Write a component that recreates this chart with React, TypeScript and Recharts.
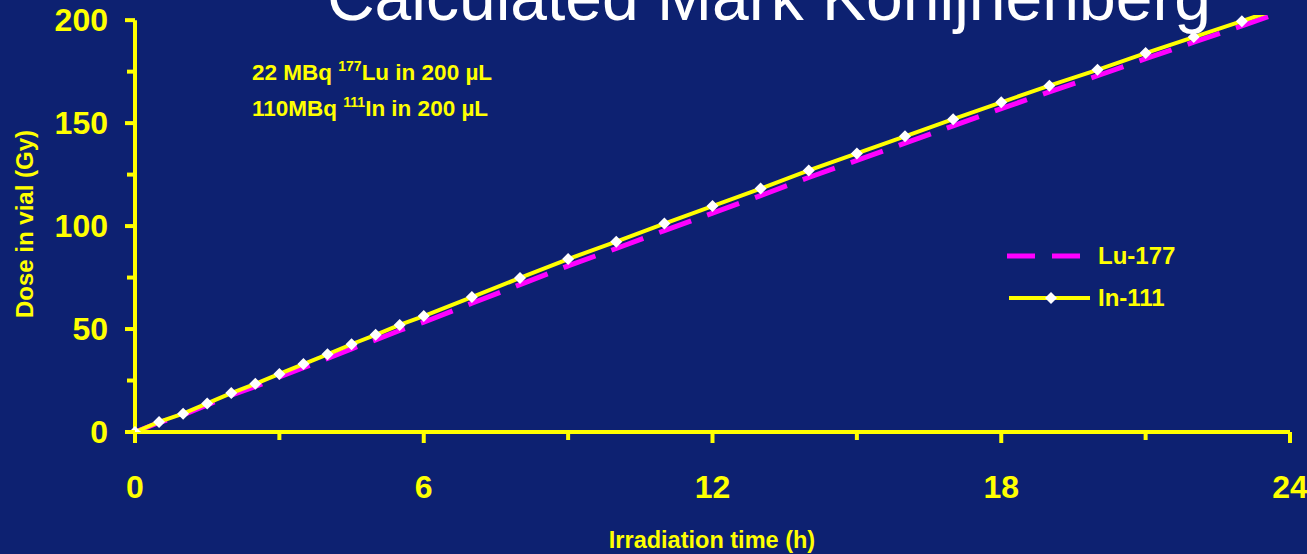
import { LineChart, Line, XAxis, YAxis, ReferenceLine } from 'recharts';

const BG = '#0d2171';
const YELLOW = '#ffff00';
const MAGENTA = '#ff00ff';
const FONT = '"Liberation Sans", Arial, sans-serif';

// irradiation time (h)
const hours = [0, 0.5, 1, 1.5, 2, 2.5, 3, 3.5, 4, 4.5, 5, 5.5, 6, 7, 8, 9, 10, 11, 12, 13, 14, 15, 16, 17, 18, 19, 20, 21, 22, 23, 24];
// dose in vial (Gy)
const in111 = [0, 4.9, 8.9, 13.9, 18.9, 23.4, 28.2, 33.0, 37.7, 42.6, 47.2, 52.0, 56.3, 65.5, 74.8, 84.0, 92.4, 101.2, 109.7, 118.2, 127.0, 135.3, 143.6, 151.9, 160.1, 168.2, 175.9, 184.0, 191.8, 199.5, 207.5];
const lu177 = [0, 4.6, 8.3, 13.1, 17.9, 22.1, 26.7, 31.2, 35.7, 40.4, 44.7, 49.3, 53.3, 62.5, 71.6, 80.7, 89.1, 97.8, 106.3, 114.8, 123.6, 131.9, 140.3, 148.7, 157.0, 165.2, 173.0, 181.3, 189.3, 197.2, 205.5];

const xTicks = [0, 3, 6, 9, 12, 15, 18, 21, 24];
const yTicks = [0, 25, 50, 75, 100, 125, 150, 175, 200];

const data = hours.map((h, i) => ({ h, lu: lu177[i], inn: in111[i] }));

const XTick = ({ x, y, payload }: any) => {
  const major = payload.value % 6 === 0;
  return (
    <g>
      <line x1={x} x2={x} y1={y} y2={y + (major ? 11 : 8)} stroke={YELLOW} strokeWidth={4} />
      {major && (
        <text x={x} y={y + 66} textAnchor="middle" fill={YELLOW} fontSize={32} fontWeight="bold" fontFamily={FONT}>
          {payload.value}
        </text>
      )}
    </g>
  );
};

const YTick = ({ x, y, payload }: any) => {
  const major = payload.value % 50 === 0;
  return (
    <g>
      <line x1={x - (major ? 10 : 8)} x2={x} y1={y} y2={y} stroke={YELLOW} strokeWidth={4} />
      {major && (
        <text x={x - 27} y={y + 11} textAnchor="end" fill={YELLOW} fontSize={32} fontWeight="bold" fontFamily={FONT}>
          {payload.value}
        </text>
      )}
    </g>
  );
};

const Diamond = ({ cx, cy }: any) => {
  if (cx == null || cy == null) return null;
  const r = 6;
  return <polygon points={`${cx},${cy - r} ${cx + r},${cy} ${cx},${cy + r} ${cx - r},${cy}`} fill="#ffffff" />;
};

export default function App() {
  return (
    <div style={{ position: 'absolute', left: 0, top: 0, width: 1307, height: 554, background: BG, overflow: 'hidden' }}>
      <LineChart width={1307} height={554} data={data} margin={{ top: 15, right: 17, left: 0, bottom: 0 }}>
        <XAxis
          dataKey="h"
          type="number"
          domain={[0, 24]}
          ticks={xTicks}
          interval={0}
          height={122}
          axisLine={{ stroke: YELLOW, strokeWidth: 4 }}
          tickLine={false}
          tickSize={0}
          tickMargin={0}
          tick={<XTick />}
        />
        <YAxis
          type="number"
          domain={[0, 202.5]}
          allowDataOverflow
          ticks={yTicks}
          interval={0}
          width={135}
          axisLine={false}
          tickLine={false}
          tickSize={0}
          tickMargin={0}
          tick={<YTick />}
        />
        <ReferenceLine
          segment={[{ x: 0, y: 0 }, { x: 0, y: 200 }]}
          stroke={YELLOW}
          strokeWidth={4}
        />
        <Line
          dataKey="lu"
          name="Lu-177"
          type="linear"
          stroke={MAGENTA}
          strokeWidth={5}
          strokeDasharray="34 17"
          dot={false}
          isAnimationActive={false}
        />
        <Line
          dataKey="inn"
          name="In-111"
          type="linear"
          stroke={YELLOW}
          strokeWidth={4}
          dot={<Diamond />}
          isAnimationActive={false}
        />
      </LineChart>
      <svg width={1307} height={554} style={{ position: 'absolute', left: 0, top: 0, pointerEvents: 'none' }}>
        <text x={769} y={20} textAnchor="middle" fill="#ffffff" fontSize={66} fontFamily={FONT}>
          Calculated Mark Konijnenberg
        </text>
        <text x={252} y={80} fill={YELLOW} fontSize={22.5} fontWeight="bold" fontFamily={FONT}>
          22 MBq <tspan fontSize={14} dy={-9}>177</tspan><tspan dy={9}>Lu in 200 µL</tspan>
        </text>
        <text x={252} y={116} fill={YELLOW} fontSize={22.5} fontWeight="bold" fontFamily={FONT}>
          110MBq <tspan fontSize={14} dy={-9}>111</tspan><tspan dy={9}>In in 200 µL</tspan>
        </text>
        <text
          transform="translate(33,224) rotate(-90)"
          textAnchor="middle"
          fill={YELLOW}
          fontSize={24}
          fontWeight="bold"
          fontFamily={FONT}
        >
          Dose in vial (Gy)
        </text>
        <text x={712} y={548} textAnchor="middle" fill={YELLOW} fontSize={23.5} fontWeight="bold" fontFamily={FONT}>
          Irradiation time (h)
        </text>
        <line x1={1007} x2={1081} y1={256} y2={256} stroke={MAGENTA} strokeWidth={5} strokeDasharray="28 17" />
        <text x={1098} y={264} fill={YELLOW} fontSize={24} fontWeight="bold" fontFamily={FONT}>
          Lu-177
        </text>
        <line x1={1009} x2={1090} y1={298} y2={298} stroke={YELLOW} strokeWidth={4} />
        <polygon points="1051,292 1057,298 1051,304 1045,298" fill="#ffffff" />
        <text x={1098} y={306} fill={YELLOW} fontSize={24} fontWeight="bold" fontFamily={FONT}>
          In-111
        </text>
      </svg>
    </div>
  );
}
